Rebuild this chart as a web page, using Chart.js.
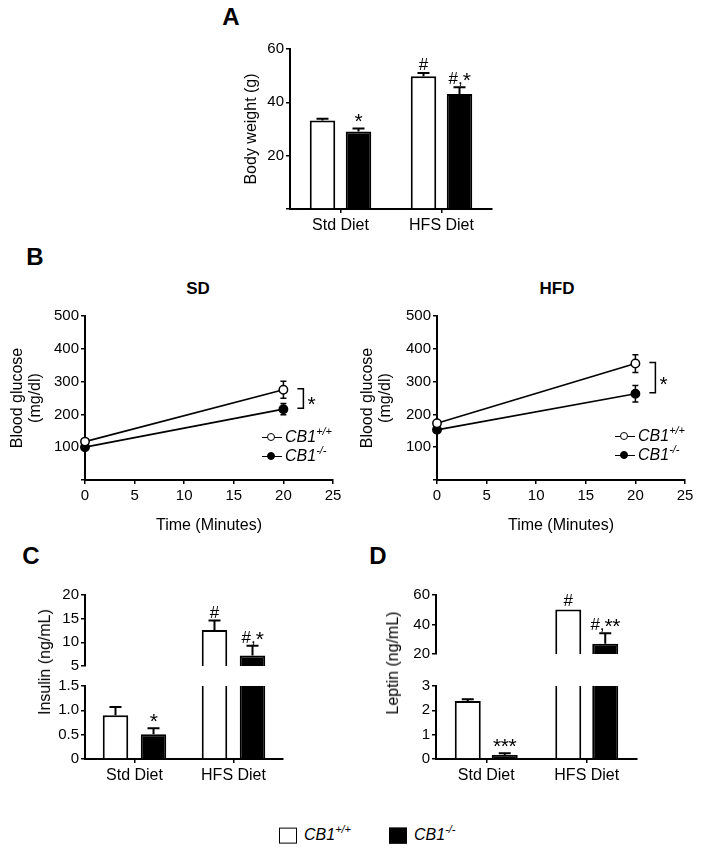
<!DOCTYPE html>
<html><head><meta charset="utf-8">
<script src="https://cdn.jsdelivr.net/npm/chart.js@4.4.1/dist/chart.umd.min.js"></script>
<style>
body{margin:0;background:#fff;font-family:"Liberation Sans",Arial,sans-serif;color:#000}
#fig{position:relative;width:704px;height:853px;overflow:hidden;background:#fff}
canvas{position:absolute}
.t{position:absolute;white-space:nowrap;line-height:1}
.letter{font-weight:bold;font-size:24px;transform:translate(-50%,-50%)}
.ptitle{font-weight:bold;font-size:17px;transform:translate(-50%,-50%)}
.ylab{font-size:16px;transform:translate(-50%,-50%) rotate(-90deg)}
.leg{font-size:16px;font-style:italic;transform:translateY(-50%)}
.leg sup{font-size:11px;vertical-align:0;position:relative;top:-7px;line-height:1}
.sym{display:inline-block;position:relative;width:20px;height:0;border-top:1.5px solid #000;vertical-align:middle;margin-right:3px}
.sym i{position:absolute;left:5px;top:-5.2px;width:6px;height:6px;border:1.5px solid #000;border-radius:50%;background:#fff}
.sym i.f{background:#000}
.box{display:inline-block;width:16px;height:14px;border:1.5px solid #000;vertical-align:middle;margin-right:7px}
</style></head>
<body>
<div id="fig">
<canvas id="cA"></canvas>
<canvas id="cB1"></canvas>
<canvas id="cB2"></canvas>
<canvas id="cC1"></canvas>
<canvas id="cC2"></canvas>
<canvas id="cD1"></canvas>
<canvas id="cD2"></canvas>
<div class="t letter" style="left:231px;top:17px">A</div>
<div class="t letter" style="left:35px;top:257px">B</div>
<div class="t letter" style="left:31px;top:556px">C</div>
<div class="t letter" style="left:378px;top:556px">D</div>
<div class="t ptitle" style="left:198px;top:288px">SD</div>
<div class="t ptitle" style="left:557px;top:288px">HFD</div>
<div class="t ylab" style="left:45px;top:662px">Insulin (ng/mL)</div>
<div class="t ylab" style="left:393px;top:663px">Leptin (ng/mL)</div>
<div class="t leg" style="left:262px;top:437px"><span class="sym"><i></i></span>CB1<sup>+/+</sup></div>
<div class="t leg" style="left:262px;top:456px"><span class="sym"><i class="f"></i></span>CB1<sup>-/-</sup></div>
<div class="t leg" style="left:615px;top:436px"><span class="sym"><i></i></span>CB1<sup>+/+</sup></div>
<div class="t leg" style="left:615px;top:455px"><span class="sym"><i class="f"></i></span>CB1<sup>-/-</sup></div>
<div class="t leg" style="left:279px;top:835px"><span class="box"></span>CB1<sup>+/+</sup></div>
<div class="t leg" style="left:389px;top:835px"><span class="box" style="background:#000"></span>CB1<sup>-/-</sup></div>
</div>
<script>
// ---------------- data ----------------
const dietCategories = ['Std Diet', 'HFS Diet'];

const bodyWeightWT = [33.2, 49.8];
const bodyWeightWTErr = [0.6, 1.2];
const bodyWeightKO = [29.1, 43.1];
const bodyWeightKOErr = [1.1, 2.6];
const bodyWeightWTMarks = ['', '#'];
const bodyWeightKOMarks = ['*', '#,*'];
const bodyWeightTicks = [0, 20, 40, 60];

const timeMinutes = [0, 20];
const timeTicks = [0, 5, 10, 15, 20, 25];
const glucoseTicks = [0, 100, 200, 300, 400, 500];
const glucoseSdWT = [117, 275];
const glucoseSdWTErr = [4, 26];
const glucoseSdKO = [100, 216];
const glucoseSdKOErr = [4, 17];
const glucoseHfdWT = [173, 355];
const glucoseHfdWTErr = [5, 27];
const glucoseHfdKO = [153, 263];
const glucoseHfdKOErr = [5, 25];

const insulinWT = [0.90, 12.6];
const insulinWTErr = [0.17, 2.0];
const insulinKO = [0.51, 7.2];
const insulinKOErr = [0.12, 2.1];
const insulinWTMarks = ['', '#'];
const insulinKOMarks = ['*', '#,*'];
const insulinUpperTicks = [5, 10, 15, 20];
const insulinLowerTicks = [0, 0.5, 1.0, 1.5];

const leptinWT = [2.38, 50.2];
const leptinWTErr = [0.08, 0];
const leptinKO = [0.16, 27.0];
const leptinKOErr = [0.08, 7.0];
const leptinWTMarks = ['', '#'];
const leptinKOMarks = ['***', '#,**'];
const leptinUpperTicks = [20, 40, 60];
const leptinLowerTicks = [0, 1, 2, 3];

// ---------------- setup ----------------
const FONT = '"Liberation Sans", Arial, sans-serif';
Chart.defaults.font.family = FONT;
Chart.defaults.font.size = 15;
Chart.defaults.color = '#000';
Chart.defaults.animation = false;
Chart.defaults.plugins.legend.display = false;
Chart.defaults.plugins.tooltip.enabled = false;

// draw a significance string centred at x with baseline y; stars drawn larger
function drawMark(ctx, s, x, y) {
  const parts = s.split('').map(ch => ({ch, font: (ch === '*' ? '21px ' : '17px ') + FONT}));
  let total = 0;
  parts.forEach(p => { ctx.font = p.font; p.w = ctx.measureText(p.ch).width * (p.ch === '*' ? 0.95 : 1); total += p.w; });
  let cx = x - total / 2;
  ctx.textAlign = 'left';
  ctx.textBaseline = 'alphabetic';
  parts.forEach(p => {
    ctx.font = p.font;
    ctx.fillText(p.ch, cx, p.ch === '*' ? y + 3 : y);
    cx += p.w;
  });
}

function drawErrors(chart, o) {
  const ctx = chart.ctx, ys = chart.scales.y;
  ctx.save();
  ctx.strokeStyle = '#000';
  ctx.fillStyle = '#000';
  ctx.lineWidth = o.lw || 2;
  chart.data.datasets.forEach((ds, i) => {
    const meta = chart.getDatasetMeta(i);
    meta.data.forEach((el, j) => {
      const d = ds.data[j];
      const val = (typeof d === 'object') ? d.y : d;
      const e = ds.errors ? ds.errors[j] : 0;
      if (val < ys.min - 1e-9 || val > ys.max + 1e-9) return;
      const x = el.x;
      const yv = ys.getPixelForValue(val);
      const yt = ys.getPixelForValue(val + e);
      const yb = o.both ? ys.getPixelForValue(val - e) : yv;
      if (e > 0) {
        ctx.beginPath();
        ctx.moveTo(x, yb); ctx.lineTo(x, yt);
        ctx.moveTo(x - o.cap, yt); ctx.lineTo(x + o.cap, yt);
        if (o.both) { ctx.moveTo(x - o.cap, yb); ctx.lineTo(x + o.cap, yb); }
        ctx.stroke();
      }
      if (ds.marks && ds.marks[j]) drawMark(ctx, ds.marks[j], x, Math.min(yt, yv) - 3);
    });
  });
  ctx.restore();
}
const errPlugin = {
  id: 'errs',
  beforeDatasetsDraw(chart, a, o) { if (o.before) drawErrors(chart, o); },
  afterDatasetsDraw(chart, a, o) { if (!o.before) drawErrors(chart, o); }
};
const bracketPlugin = {
  id: 'bracket',
  afterDatasetsDraw(chart, a, o) {
    if (!o.show) return;
    const ctx = chart.ctx;
    const A = chart.getDatasetMeta(0).data, B = chart.getDatasetMeta(1).data;
    const pa = A[A.length - 1], pb = B[B.length - 1];
    const x = pa.x + o.offset;
    const y1 = pa.y - 1, y2 = pb.y - 1;
    ctx.save();
    ctx.strokeStyle = '#000'; ctx.lineWidth = 1.5;
    ctx.beginPath();
    ctx.moveTo(x - 6, y1); ctx.lineTo(x, y1); ctx.lineTo(x, y2); ctx.lineTo(x - 6, y2);
    ctx.stroke();
    ctx.fillStyle = '#000';
    ctx.font = '21px ' + FONT;
    ctx.textAlign = 'left'; ctx.textBaseline = 'alphabetic';
    ctx.fillText(o.label, x + 4, (y1 + y2) / 2 + 13);
    ctx.restore();
  }
};

function place(id, area, yW, padT, padR, bottom) {
  const c = document.getElementById(id);
  const w = yW + (area.r - area.l) + padR;
  const h = padT + (area.b - area.t) + bottom;
  c.width = w; c.height = h;
  c.style.left = (area.l - yW) + 'px';
  c.style.top = (area.t - padT) + 'px';
  c.style.width = w + 'px'; c.style.height = h + 'px';
  return c;
}
const tickGrid = {display: true, drawOnChartArea: false, drawTicks: true, tickLength: 4, color: '#000', lineWidth: 1.5};
const axisBorder = {display: true, color: '#000', width: 2};

function yAxis(ticksArr, width, fmt, title) {
  const ax = {
    type: 'linear', min: ticksArr[0], max: ticksArr[ticksArr.length - 1],
    afterBuildTicks: (s) => { s.ticks = ticksArr.map(v => ({value: v})); },
    ticks: {padding: 2, font: {size: 15}, callback: fmt},
    border: axisBorder, grid: tickGrid,
    afterFit: (s) => { s.width = width; }
  };
  if (title) ax.title = title;
  return ax;
}
function catAxis(height, show) {
  return {
    type: 'category', display: show, offset: true,
    ticks: {padding: 3, font: {size: 16}},
    border: axisBorder,
    grid: Object.assign({}, tickGrid, {offset: false}),
    afterFit: (s) => { s.height = height; }
  };
}
function barSets(wt, wtE, wtM, ko, koE, koM, cp, bp) {
  return [
    {label: 'CB1+/+', data: wt, errors: wtE, marks: wtM, backgroundColor: '#fff', borderColor: '#000',
     borderWidth: 2, categoryPercentage: cp, barPercentage: bp, clip: 0},
    {label: 'CB1-/-', data: ko, errors: koE, marks: koM, backgroundColor: '#000', borderColor: '#000',
     borderWidth: 2, categoryPercentage: cp, barPercentage: bp, clip: 0}
  ];
}
function barChart(id, area, yW, padT, padR, bottom, yax, xax, sets) {
  const c = place(id, area, yW, padT, padR, bottom);
  return new Chart(c, {
    type: 'bar',
    data: {labels: dietCategories, datasets: sets},
    options: {
      responsive: false, devicePixelRatio: 1,
      layout: {padding: {top: padT, right: padR, left: 0, bottom: xax.display ? 0 : bottom}},
      scales: {x: xax, y: yax},
      plugins: {errs: {cap: 6, both: false, lw: 2}}
    },
    plugins: [errPlugin]
  });
}
const hideZero = (v) => v === 0 ? '' : v;

// ---------------- Panel A ----------------
barChart('cA', {l: 290, r: 492, t: 48, b: 209}, 60, 10, 10, 30,
  yAxis(bodyWeightTicks, 60, hideZero, {display: true, text: 'Body weight (g)', font: {size: 16}, padding: {top: 12, bottom: 0}}),
  catAxis(30, true),
  barSets(bodyWeightWT, bodyWeightWTErr, bodyWeightWTMarks, bodyWeightKO, bodyWeightKOErr, bodyWeightKOMarks, 0.713, 0.708));

// ---------------- Panel B ----------------
function glucoseChart(id, area, yW, titlePad, wt, wtE, ko, koE) {
  const c = place(id, area, yW, 10, 15, 57);
  const mk = (arr) => timeMinutes.map((t, i) => ({x: t, y: arr[i]}));
  return new Chart(c, {
    type: 'line',
    data: {datasets: [
      {label: 'CB1+/+', data: mk(wt), errors: wtE, borderColor: '#000', borderWidth: 1.7,
       pointRadius: 4.2, pointBackgroundColor: '#fff', pointBorderColor: '#000', pointBorderWidth: 1.5,
       fill: false, tension: 0, clip: false},
      {label: 'CB1-/-', data: mk(ko), errors: koE, borderColor: '#000', borderWidth: 1.7,
       pointRadius: 4.2, pointBackgroundColor: '#000', pointBorderColor: '#000', pointBorderWidth: 1.5,
       fill: false, tension: 0, clip: false}
    ]},
    options: {
      responsive: false, devicePixelRatio: 1,
      layout: {padding: {top: 10, right: 15, left: 0, bottom: 0}},
      scales: {
        x: {type: 'linear', min: 0, max: 25,
            afterBuildTicks: (s) => { s.ticks = timeTicks.map(v => ({value: v})); },
            ticks: {padding: 3, font: {size: 15}},
            border: axisBorder, grid: tickGrid,
            title: {display: true, text: 'Time (Minutes)', font: {size: 16}, padding: {top: 4, bottom: 2}},
            afterFit: (s) => { s.height = 57; }},
        y: yAxis(glucoseTicks, yW, hideZero,
            {display: true, text: ['Blood glucose', '(mg/dl)'], font: {size: 16, lineHeight: 1.15}, padding: {top: titlePad, bottom: 0}})
      },
      plugins: {errs: {cap: 3, both: true, before: true, lw: 1.5}, bracket: {show: true, offset: 20, label: '*'}}
    },
    plugins: [errPlugin, bracketPlugin]
  });
}
glucoseChart('cB1', {l: 85, r: 333, t: 315, b: 480}, 85, 8, glucoseSdWT, glucoseSdWTErr, glucoseSdKO, glucoseSdKOErr);
glucoseChart('cB2', {l: 437, r: 685, t: 315, b: 480}, 87, 8, glucoseHfdWT, glucoseHfdWTErr, glucoseHfdKO, glucoseHfdKOErr);

// ---------------- Panel C ----------------
const fmt1 = (v) => v === 0 ? '0' : v.toFixed(1);
barChart('cC1', {l: 85, r: 283, t: 594, b: 669}, 45, 10, 10, 8,
  yAxis(insulinUpperTicks, 45, (v) => v), catAxis(0, false),
  barSets(insulinWT, insulinWTErr, insulinWTMarks, insulinKO, insulinKOErr, insulinKOMarks, 0.768, 0.671));
barChart('cC2', {l: 85, r: 283, t: 683, b: 759}, 45, 8, 10, 30,
  yAxis(insulinLowerTicks, 45, fmt1), catAxis(30, true),
  barSets(insulinWT, insulinWTErr, insulinWTMarks, insulinKO, insulinKOErr, insulinKOMarks, 0.768, 0.671));

// ---------------- Panel D ----------------
barChart('cD1', {l: 436, r: 637, t: 594, b: 657}, 45, 10, 10, 8,
  yAxis(leptinUpperTicks, 45, (v) => v), catAxis(0, false),
  barSets(leptinWT, leptinWTErr, leptinWTMarks, leptinKO, leptinKOErr, leptinKOMarks, 0.736, 0.703));
barChart('cD2', {l: 436, r: 637, t: 683, b: 759}, 45, 8, 10, 30,
  yAxis(leptinLowerTicks, 45, (v) => v), catAxis(30, true),
  barSets(leptinWT, leptinWTErr, leptinWTMarks, leptinKO, leptinKOErr, leptinKOMarks, 0.736, 0.703));
</script>
</body></html>
